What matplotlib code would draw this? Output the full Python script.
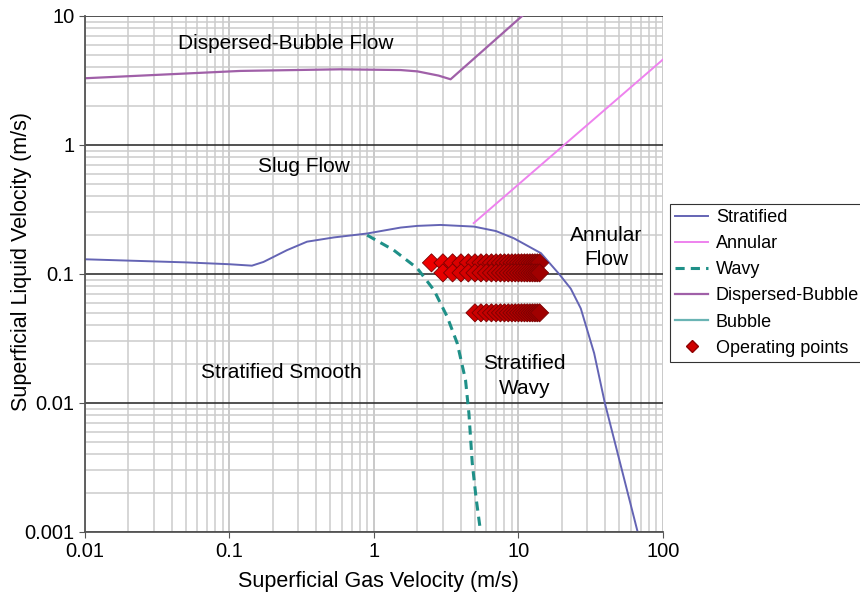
import numpy as np
import matplotlib
matplotlib.use("Agg")
import matplotlib.pyplot as plt
from matplotlib.ticker import LogLocator, NullFormatter
from matplotlib.colors import LinearSegmentedColormap

plt.rcParams["font.family"] = ["Liberation Sans", "DejaVu Sans"]

# Boundary curves (gas velocity, liquid velocity)
strat_x = [0.01, 0.05, 0.1, 0.143, 0.172, 0.25, 0.344, 0.527, 0.897, 1.53, 2.0, 2.89,
           4.92, 7.0, 9.3, 14.3, 19.1, 23.0, 27.0, 33.4, 39.6, 48.5, 66.8]
strat_y = [0.130, 0.123, 0.119, 0.116, 0.124, 0.153, 0.178, 0.192, 0.206, 0.229, 0.236, 0.240,
           0.233, 0.215, 0.189, 0.145, 0.100, 0.077, 0.054, 0.0243, 0.010, 0.0041, 0.001]

annular_x = [4.9, 100.0]
annular_y = [0.248, 4.6]

wavy_x = [0.897, 1.37, 1.99, 2.6, 3.21, 3.77, 4.3, 4.54, 4.79, 5.1, 5.47]
wavy_y = [0.2, 0.153, 0.111, 0.075, 0.0467, 0.029, 0.0151, 0.0083, 0.0034, 0.0018, 0.001]

disp_x = [0.01, 0.119, 0.586, 1.53, 2.0, 2.8, 3.39, 10.6]
disp_y = [3.29, 3.75, 3.86, 3.81, 3.72, 3.45, 3.23, 10.0]

# Operating points: three rows of gas velocities
op_row1_x = np.arange(2.5, 14.01, 0.5)
op_row2_x = np.arange(3.0, 14.01, 0.5)
op_row3_x = np.arange(5.0, 14.01, 0.5)
op_row_y = [0.122, 0.102, 0.05]

fig = plt.figure(figsize=(8.6, 5.94), dpi=100)
ax = fig.add_axes([0.0988, 0.1044, 0.6721, 0.8687])

ax.set_xscale("log")
ax.set_yscale("log")
ax.set_xlim(0.01, 100)
ax.set_ylim(0.001, 10)

# grid: light gray minors, dark horizontal decades
ax.xaxis.set_minor_locator(LogLocator(base=10, subs=np.arange(2, 10)))
ax.yaxis.set_minor_locator(LogLocator(base=10, subs=np.arange(2, 10)))
ax.xaxis.set_minor_formatter(NullFormatter())
ax.yaxis.set_minor_formatter(NullFormatter())
ax.grid(which="minor", axis="both", color="#cccccc", lw=1.1)
ax.grid(which="major", axis="x", color="#bbbbbb", lw=1.1)
ax.grid(which="major", axis="y", color="#333333", lw=1.2)
ax.set_axisbelow(True)
ax.tick_params(which="minor", length=0)
ax.tick_params(which="major", length=4, color="#555555", labelsize=14.5)

for s in ["top", "right"]:
    ax.spines[s].set_visible(False)
for s in ["left", "bottom"]:
    ax.spines[s].set_color("#555555")
    ax.spines[s].set_linewidth(1.3)

ax.set_xticks([0.01, 0.1, 1, 10, 100])
ax.set_xticklabels(["0.01", "0.1", "1", "10", "100"])
ax.set_yticks([0.001, 0.01, 0.1, 1, 10])
ax.set_yticklabels(["0.001", "0.01", "0.1", "1", "10"])

ax.plot(strat_x, strat_y, color="#6464b4", lw=1.4, label="Stratified")
ax.plot(annular_x, annular_y, color="#ee82ee", lw=1.4, label="Annular")
ax.plot(wavy_x, wavy_y, color="#1f9088", lw=2.2, ls=(0, (3, 2)), label="Wavy")
ax.plot(disp_x, disp_y, color="#a060a8", lw=1.6, label="Dispersed-Bubble")
ax.plot([], [], color="#6ab4b4", lw=1.6, label="Bubble")

# red diamonds, getting darker toward higher gas velocity
reds = LinearSegmentedColormap.from_list("reds", ["#f00000", "#a00000"])
for xs, yv in zip([op_row1_x, op_row2_x, op_row3_x], op_row_y):
    shade = (np.log10(xs) - np.log10(2.5)) / (np.log10(14) - np.log10(2.5))
    ax.scatter(xs, [yv] * len(xs), marker="D", s=85, c=reds(shade),
               edgecolors="#7a0000", linewidths=0.6, zorder=3)
ax.plot([], [], ls="none", marker="D", ms=6, mfc="#d00000", mec="#900000",
        label="Operating points")

ax.set_xlabel("Superficial Gas Velocity (m/s)", fontsize=15.5)
ax.set_ylabel("Superficial Liquid Velocity (m/s)", fontsize=15.5)
ax.xaxis.set_label_coords(0.507, -0.075)
ax.yaxis.set_label_coords(-0.092, 0.525)

ax.text(0.247, 6.07, "Dispersed-Bubble Flow", fontsize=15, ha="center", va="center")
ax.text(0.33, 0.687, "Slug Flow", fontsize=15, ha="center", va="center")
ax.text(0.23, 0.0172, "Stratified Smooth", fontsize=15, ha="center", va="center")
ax.text(11.0, 0.0162, "Stratified\nWavy", fontsize=15, ha="center", va="center",
        linespacing=1.38)
ax.text(40.3, 0.16, "Annular\nFlow", fontsize=15, ha="center", va="center",
        linespacing=1.34)

leg = ax.legend(loc="upper left", bbox_to_anchor=(0.779, 0.6566),
                bbox_transform=fig.transFigure, fontsize=13, frameon=True,
                fancybox=False, edgecolor="black", handlelength=1.8,
                handletextpad=0.45, labelspacing=0.5, borderpad=0.3,
                borderaxespad=0)
leg.get_frame().set_linewidth(0.8)

fig.savefig("out.png", dpi=100)
